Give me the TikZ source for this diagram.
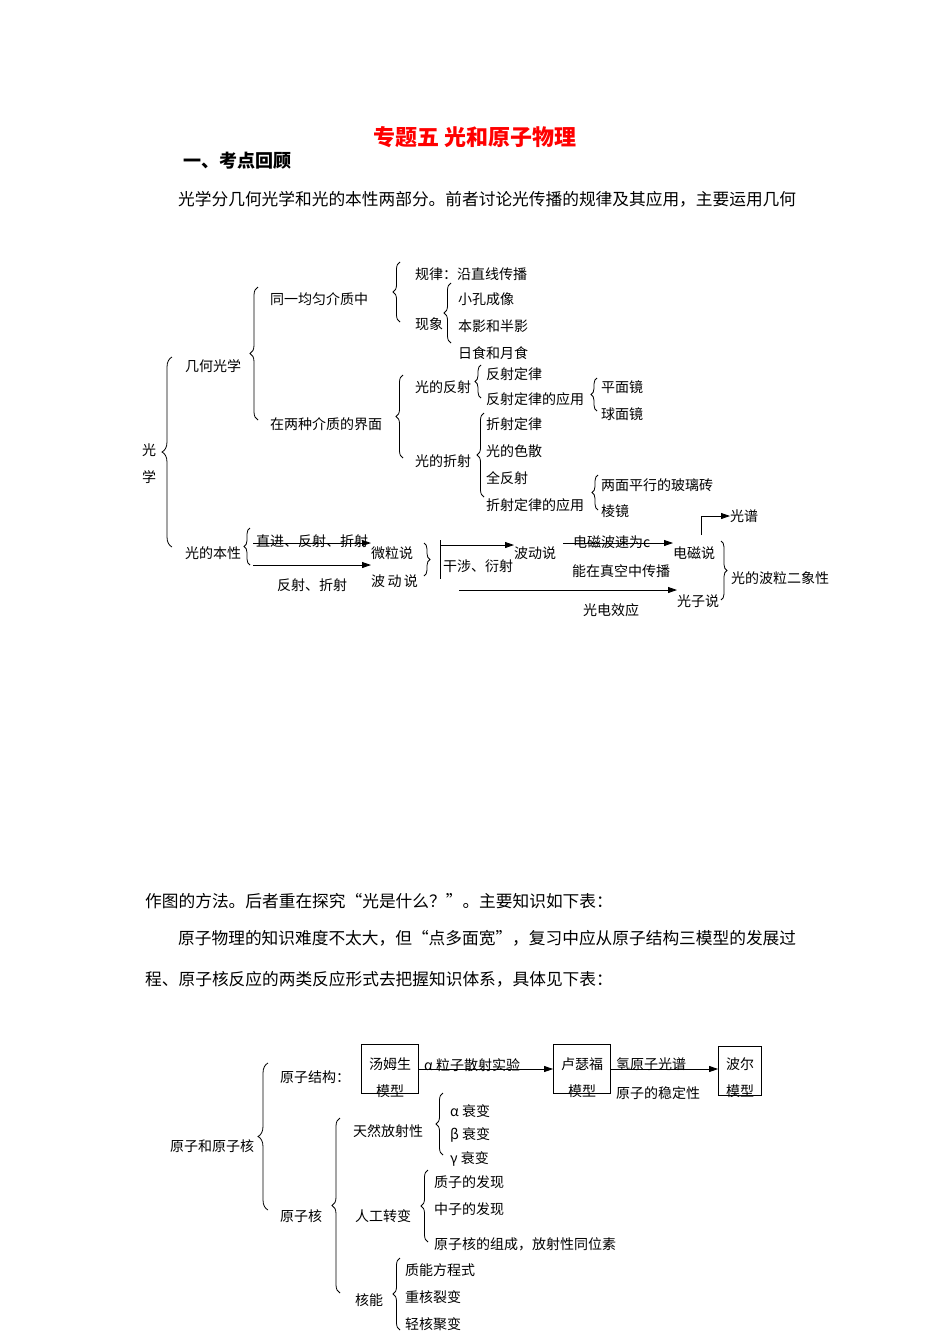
\documentclass[tikz,border=0pt]{standalone}
\usepackage{fontspec}
\setmainfont{Noto Sans CJK SC}
\usetikzlibrary{decorations.pathreplacing,arrows.meta}
\begin{document}
\begin{tikzpicture}[x=1pt,y=-1pt,
 t/.style={anchor=west,inner sep=0pt,font=\fontsize{14}{16}\selectfont},
 b/.style={anchor=west,inner sep=0pt,font=\fontsize{16.7}{18}\selectfont},
 br/.style={decorate,decoration={brace,amplitude=7pt},thick},
 ar/.style={-{Triangle[length=9pt,width=6pt]},thick},
 bx/.style={draw,thick,minimum width=57pt,minimum height=49pt,inner sep=0pt}]
\useasboundingbox (0,0) rectangle (950,1344);
% header text
\node[inner sep=0,text=red,font=\fontsize{22}{24}\selectfont\bfseries] (title) at (475,137) {专题五 光和原子物理};
\node[b,font=\fontsize{18}{20}\selectfont\bfseries] (h1) at (183,161) {一、考点回顾};
\node[b] (p1) at (178,199) {光学分几何光学和光的本性两部分。前者讨论光传播的规律及其应用，主要运用几何};
\node[b] (p2) at (145,901) {作图的方法。后者重在探究“光是什么？”。主要知识如下表：};
\node[b] (p3) at (178,938) {原子物理的知识难度不太大，但“点多面宽”，复习中应从原子结构三模型的发展过};
\node[b] (p4) at (145,979) {程、原子核反应的两类反应形式去把握知识体系，具体见下表：};
% top diagram
\node[t] (g1) at (142,450) {光};
\node[t] (g2) at (142,477) {学};
\draw[br,decoration={amplitude=10pt}] (172,547) -- (172,357);
\node[t] (jh) at (185,366) {几何光学};
\node[t] (bx1) at (185,553) {光的本性};
\draw[br,decoration={amplitude=8pt}] (258,420) -- (258,287);
\node[t] (ty) at (270,299) {同一均匀介质中};
\node[t] (zl) at (270,424) {在两种介质的界面};
\draw[br] (400,322) -- (400,262);
\node[t] (gl) at (415,274) {规律：沿直线传播};
\node[t] (xx) at (415,324) {现象};
\draw[br] (451,343) -- (451,283);
\node[t] (xk) at (458,299) {小孔成像};
\node[t] (by) at (458,326) {本影和半影};
\node[t] (rs) at (458,353) {日食和月食};
\draw[br] (403,458) -- (403,375);
\node[t] (gfs) at (415,387) {光的反射};
\node[t] (gzs) at (415,461) {光的折射};
\draw[br,decoration={amplitude=6pt}] (481,398) -- (481,365);
\node[t] (fd) at (486,374) {反射定律};
\node[t] (fy) at (486,399) {反射定律的应用};
\draw[br,decoration={amplitude=6pt}] (597,411) -- (597,378);
\node[t] (pm) at (601,387) {平面镜};
\node[t] (qm) at (601,414) {球面镜};
\draw[br] (484,497) -- (484,413);
\node[t] (zd) at (486,424) {折射定律};
\node[t] (sz) at (486,451) {光的色散};
\node[t] (qf) at (486,478) {全反射};
\node[t] (zy) at (486,505) {折射定律的应用};
\draw[br,decoration={amplitude=6pt}] (598,510) -- (598,475);
\node[t] (lm) at (601,485) {两面平行的玻璃砖};
\node[t] (lj) at (601,511) {棱镜};
\draw[br,decoration={amplitude=6pt}] (250,565) -- (250,528);
\node[t] (zj) at (256,541) {直进、反射、折射};
\node[t] (fz) at (277,585) {反射、折射};
\node[t] (wl) at (371,553) {微粒说};
\node[t] (bd) at (371,581) {波\,动\,说};
\coordinate (a1) at (253,543);
\coordinate (a2) at (253,565);
\draw[ar] (a1) -- (wl.west |- a1);
\draw[ar] (a2) -- (bd.west |- a2);
\draw[br,decoration={amplitude=6pt}] (424,543) -- (424,576);
\coordinate (v1) at (440,540);
\coordinate (v2) at (440,579);
\draw[thick] (v1) -- (v2);
\node[t] (gs) at (443,566) {干涉、衍射};
\node[t] (bd2) at (514,553) {波动说};
\coordinate (a3) at (441,545);
\draw[ar] (a3) -- (bd2.west |- a3);
\node[t] (ds) at (573,542) {电磁波速为c};
\node[t] (zk) at (572,571) {能在真空中传播};
\node[t] (dc) at (673,553) {电磁说};
\coordinate (a4) at (563,543);
\draw[ar] (a4) -- (dc.west |- a4);
\node[t] (gp) at (730,516) {光谱};
\coordinate (a5) at (701,535);
\draw[ar] (a5) |- (gp.west);
\node[t] (gzi) at (677,601) {光子说};
\coordinate (a6) at (459,590);
\draw[ar] (a6) -- (gzi.north west |- a6);
\node[t] (gd) at (583,610) {光电效应};
\draw[br,decoration={amplitude=6pt}] (721,541) -- (721,600);
\node[t] (be) at (731,578) {光的波粒二象性};
% bottom diagram
\node[t] (yz) at (170,1146) {原子和原子核};
\draw[br,decoration={amplitude=10pt}] (268,1210) -- (268,1063);
\node[t] (yjg) at (280,1077) {原子结构：};
\node[t] (yzh) at (280,1216) {原子核};
\node[bx] (B1) at (390,1069) {};
\node[t,anchor=center] (B1a) at (390,1064) {汤姆生};
\node[t,anchor=center] (B1b) at (390,1091) {模型};
\node[bx] (B2) at (582,1069) {};
\node[t,anchor=center] (B2a) at (582,1064) {卢瑟福};
\node[t,anchor=center] (B2b) at (582,1091) {模型};
\node[bx,minimum width=43pt] (B3) at (740,1071) {};
\node[t,anchor=center] (B3a) at (740,1064) {波尔};
\node[t,anchor=center] (B3b) at (740,1091) {模型};
\draw[ar] (B1.east |- 0,1069) -- (B2.west |- 0,1069);
\draw[ar] (B2.east |- 0,1069) -- (B3.west |- 0,1069);
\node[t] (al) at (424,1065) {α 粒子散射实验};
\node[t] (qy) at (616,1064) {氢原子光谱};
\node[t] (wd) at (616,1093) {原子的稳定性};
\draw[br,decoration={amplitude=8pt}] (340,1293) -- (340,1118);
\node[t] (tr) at (353,1131) {天然放射性};
\node[t] (rg) at (355,1216) {人工转变};
\node[t] (hn) at (355,1300) {核能};
\draw[br] (443,1155) -- (443,1093);
\node[t] (s1) at (450,1111) {α 衰变};
\node[t] (s2) at (450,1135) {β 衰变};
\node[t] (s3) at (450,1159) {γ 衰变};
\draw[br] (428,1242) -- (428,1170);
\node[t] (z1) at (434,1182) {质子的发现};
\node[t] (z2) at (434,1209) {中子的发现};
\node[t] (z3) at (434,1244) {原子核的组成，放射性同位素};
\draw[br] (400,1330) -- (400,1258);
\node[t] (k1) at (405,1270) {质能方程式};
\node[t] (k2) at (405,1297) {重核裂变};
\node[t] (k3) at (405,1324) {轻核聚变};
\end{tikzpicture}
\end{document}
